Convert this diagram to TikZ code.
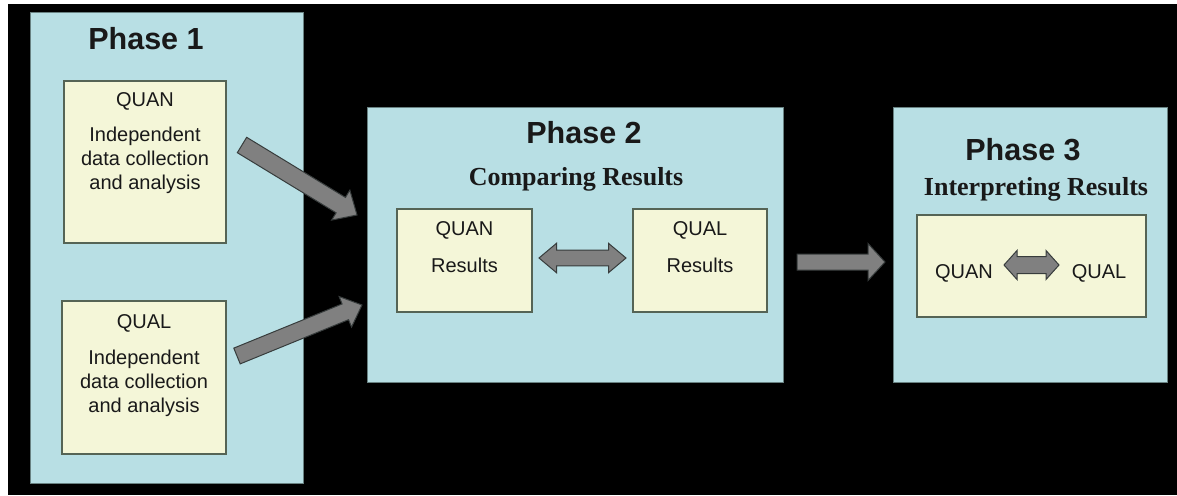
\documentclass[tikz,border=0pt]{standalone}
\usepackage{fontspec}
\setmainfont{Liberation Sans}
\newfontfamily\timesf{Liberation Serif}
\usetikzlibrary{calc}
\definecolor{phasebg}{RGB}{184,223,228}
\definecolor{phaseborder}{RGB}{105,130,130}
\definecolor{innerbg}{RGB}{244,246,216}
\definecolor{innerborder}{RGB}{85,100,85}
\definecolor{arrfill}{RGB}{128,128,128}
\definecolor{arrline}{RGB}{55,60,60}
\definecolor{txt}{RGB}{25,25,25}
\tikzset{
  phasebox/.style={draw=phaseborder, line width=1pt, fill=phasebg, rectangle, inner sep=0pt},
  innerbox/.style={draw=innerborder, line width=1.2pt, fill=innerbg, rectangle, inner sep=0pt},
  title/.style={anchor=base, inner sep=0pt, text=txt, font=\fontsize{30.5}{36}\selectfont\bfseries},
  subtitle/.style={anchor=base, inner sep=0pt, text=txt, font=\timesf\fontsize{26}{30}\selectfont\bfseries},
  body/.style={anchor=base, inner sep=0pt, text=txt, font=\fontsize{20}{24}\selectfont},
  fatstyle/.style={fill=arrfill, draw=arrline, line width=1pt, line join=miter},
}
% single fat arrow: start, end, shaft half width, head half width, head length
\newcommand\fatarr[5]{%
  \filldraw[fatstyle]
    ($(#1)!#3!90:(#2)$) --
    ($(#2)!#5!(#1)!#3!90:(#2)$) --
    ($(#2)!#5!(#1)!#4!90:(#2)$) --
    (#2) --
    ($(#2)!#5!(#1)!#4!-90:(#2)$) --
    ($(#2)!#5!(#1)!#3!-90:(#2)$) --
    ($(#1)!#3!-90:(#2)$) -- cycle;}
% double fat arrow: left tip, right tip, shaft half width, head half width, head length
\newcommand\dblarr[5]{%
  \filldraw[fatstyle]
    (#1) --
    ($(#1)!#5!(#2)!#4!90:(#2)$) --
    ($(#1)!#5!(#2)!#3!90:(#2)$) --
    ($(#2)!#5!(#1)!#3!90:(#2)$) --
    ($(#2)!#5!(#1)!#4!90:(#2)$) --
    (#2) --
    ($(#2)!#5!(#1)!#4!-90:(#2)$) --
    ($(#2)!#5!(#1)!#3!-90:(#2)$) --
    ($(#1)!#5!(#2)!#3!-90:(#2)$) --
    ($(#1)!#5!(#2)!#4!-90:(#2)$) -- cycle;}
\begin{document}
\begin{tikzpicture}[x=1pt, y=-1pt]
\useasboundingbox (0,0) rectangle (1177,495);
\fill[white] (0,0) rectangle (1177,495);
\fill[black] (8,4) rectangle (1177,495);

% phase boxes
\node[phasebox, minimum width=273pt, minimum height=470pt] (p1) at (166.5,248) {};
\node[phasebox, minimum width=416pt, minimum height=275pt] (p2) at (575,244.5) {};
\node[phasebox, minimum width=274pt, minimum height=275pt] (p3) at (1030,244.5) {};

% inner boxes
\node[innerbox, minimum width=162pt, minimum height=162pt] (quan1) at (145,162) {};
\node[innerbox, minimum width=164pt, minimum height=153pt] (qual1) at (144,377.5) {};
\node[innerbox, minimum width=135pt, minimum height=103pt] (quan2) at (464.5,260.5) {};
\node[innerbox, minimum width=134pt, minimum height=103pt] (qual2) at (700,260.5) {};
\node[innerbox, minimum width=229pt, minimum height=102pt] (res3) at (1031.5,266) {};

% titles
\node[title] (t1) at (146,49) {Phase 1};
\node[title] (t2) at (584,143) {Phase 2};
\node[subtitle] (s2) at (576,185) {Comparing Results};
\node[title] (t3) at (1023,160) {Phase 3};
\node[subtitle] (s3) at (1036,195) {Interpreting Results};

% phase 1 texts
\node[body] (q1a) at (145,106.5) {QUAN};
\node[body] (q1b) at (145,141.5) {Independent};
\node[body] (q1c) at (145,165.5) {data collection};
\node[body] (q1d) at (145,189.5) {and analysis};
\node[body] (l1a) at (144,328) {QUAL};
\node[body] (l1b) at (144,364.5) {Independent};
\node[body] (l1c) at (144,388.5) {data collection};
\node[body] (l1d) at (144,412.5) {and analysis};

% phase 2 texts
\node[body] (q2a) at (464.5,235) {QUAN};
\node[body] (q2b) at (464.5,272.5) {Results};
\node[body] (l2a) at (700,235) {QUAL};
\node[body] (l2b) at (700,272.5) {Results};

% phase 3 texts
\node[body] (q3) at (964,278) {QUAN};
\node[body] (l3) at (1099,278) {QUAL};

% arrow end points
\coordinate (a1s) at (242,145);
\coordinate (a1e) at (357,215);
\coordinate (a2s) at (237,356);
\coordinate (a2e) at (362,305);
\coordinate (a3s) at (797,262);
\coordinate (a3e) at (885,262);
\coordinate (d2l) at (539,258);
\coordinate (d2r) at (626,258);
\coordinate (d3l) at (1004,265);
\coordinate (d3r) at (1059,265);

\fatarr{a1s}{a1e}{9pt}{17.5pt}{19pt}
\fatarr{a2s}{a2e}{8.5pt}{16.5pt}{18pt}
\fatarr{a3s}{a3e}{8pt}{18.5pt}{17pt}
\dblarr{d2l}{d2r}{7.8pt}{14.7pt}{17.5pt}
\dblarr{d3l}{d3r}{8.5pt}{14.5pt}{13pt}
\end{tikzpicture}
\end{document}
